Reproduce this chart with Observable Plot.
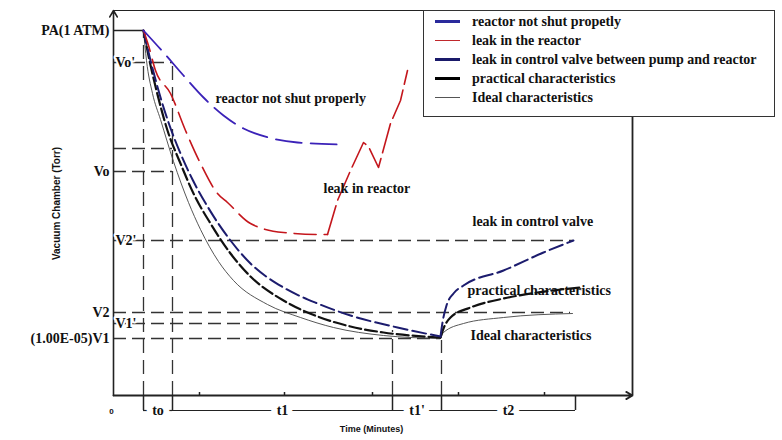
<!DOCTYPE html>
<html>
<head>
<meta charset="utf-8">
<script src="https://cdn.jsdelivr.net/npm/d3@7"></script>
<script src="https://cdn.jsdelivr.net/npm/@observablehq/plot@0.6"></script>
<style>
  body { margin: 0; background: #fff; }
  #wrap { position: relative; width: 782px; height: 440px; }
  #legend { position: absolute; left: 423px; top: 10px; width: 352px; height: 107px; box-sizing: border-box;
            border: 1.5px solid #333; background: #fff; padding-top: 1px;
            font: bold 14px "Liberation Serif", serif; color: #111; }
  #legend .row { height: 19px; line-height: 19px; display: flex; align-items: center; white-space: nowrap; }
  #legend .sw { width: 25px; margin-left: 11px; margin-right: 12px; }
</style>
</head>
<body>
<div id="wrap"></div>
<script>
// ---------- data (time units, pressure units: schematic, no absolute scale) ----------
const levelLabelsOuter = ["PA(1 ATM)", "Vo", "V2", "(1.00E-05)V1"];
const levelValuesOuter = [36.5, 22.4, 8.3, 5.7];
const levelLabelsInner = ["Vo'", "V2'", "V1'"];
const levelValuesInner = [33.3, 15.5, 7.2];

const paLevel = 36.5, paEnd = 3.0;
const guideLevels = [33.3, 24.7, 22.4, 15.5, 8.3, 7.2, 5.7];
const guideEnds   = [5.9, 5.9, 5.9, 46.0, 45.7, 18.5, 32.7];

const dropTimes = [3.0, 5.9, 27.9, 32.8];
const dropTops  = [36.5, 33.3, 6.5, 5.5];

const phaseNames  = ["to", "t1", "t1'", "t2"];
const phaseStarts = [3.0, 5.9, 27.9, 32.8];
const phaseEnds   = [5.9, 27.9, 32.8, 46.2];

const axisTicks = [8.6, 17.1, 25.9, 34.5, 43.1];
const tMax = 51.9, pTop = 38.5, legendLeft = 31.0, legendBottom = 27.8;

// reactor not shut properly
const reactorT = [3.0, 5.0, 7.0, 9.0, 11.0, 13.0, 15.5, 18.4, 22.7];
const reactorP = [36.5, 34.3, 32.0, 29.8, 28.0, 26.7, 25.8, 25.3, 25.1];
// leak in the reactor
const leakT = [3.0, 3.5, 4.2, 5.7, 7.2, 8.7, 10.4, 11.4, 13.7, 17.0, 21.0, 21.4];
const leakP = [36.5, 35.0, 32.5, 30.2, 26.5, 23.2, 20.2, 19.3, 17.2, 16.3, 16.1, 16.1];
const leakRiseT = [21.4, 22.4, 23.7, 25.0, 25.5, 26.5, 27.7, 28.7, 29.4];
const leakRiseP = [16.1, 19.5, 22.5, 25.3, 24.9, 22.8, 27.2, 29.5, 32.5];
// leak in control valve
const valveT = [3.0, 3.7, 4.5, 5.5, 6.7, 7.9, 9.4, 11.7, 13.7, 17.0, 20.4, 23.7, 28.4, 32.7];
const valveP = [36.5, 33.5, 30.5, 27.3, 24.2, 21.6, 18.9, 15.5, 13.2, 10.8, 9.2, 8.0, 6.8, 5.9];
const valveRiseT = [32.7, 32.9, 33.3, 34.0, 35.0, 39.0, 43.0, 46.0];
const valveRiseP = [5.9, 7.3, 9.0, 10.2, 11.0, 12.5, 14.3, 15.5];
// practical characteristics
const practT = [3.0, 3.6, 4.3, 5.4, 6.7, 8.0, 9.7, 11.7, 13.7, 17.0, 20.4, 23.7, 27.0, 32.7];
const practP = [36.5, 33.5, 30.5, 26.5, 23.2, 20.2, 17.2, 14.2, 11.9, 9.5, 7.9, 6.9, 6.3, 5.8];
const practRiseT = [32.7, 33.0, 33.7, 35.7, 39.0, 42.4, 46.7];
const practRiseP = [5.8, 6.7, 7.8, 8.8, 9.7, 10.3, 10.8];
// ideal characteristics
const idealT = [3.0, 3.3, 3.9, 4.7, 6.0, 7.5, 8.7, 10.5, 12.0, 15.4, 18.7, 22.0, 27.0, 32.7];
const idealP = [36.5, 33.5, 30.2, 27.6, 23.4, 19.3, 16.6, 13.4, 11.5, 9.1, 7.8, 6.8, 6.0, 5.7];
const idealRiseT = [32.7, 33.0, 35.0, 39.0, 45.9];
const idealRiseP = [5.7, 6.3, 7.2, 7.8, 8.2];

const curveLabels = ["reactor not shut properly", "leak in reactor", "leak in control valve",
                     "practical characteristics", "Ideal characteristics"];
const curveLabelT = [10.2, 21.0, 35.9, 35.4, 35.7];
const curveLabelP = [29.7, 20.7, 17.4, 10.5, 6.0];

const legendLabels = ["reactor not shut propetly", "leak in the reactor",
                      "leak in control valve between pump and reactor",
                      "practical characteristics", "Ideal characteristics"];

// ---------- build ----------
const pts = (ts, ps) => ts.map((t, i) => ({t, p: ps[i]}));
const serif = {fontFamily: "Liberation Serif", fontWeight: "bold", fontSize: 14, fill: "#111"};
const sans = {fontFamily: "Liberation Sans", fontWeight: "bold", fill: "#111"};
const guideStyle = {stroke: "#333", strokeWidth: 1.3, strokeDasharray: "13,6"};

const C = {
  reactor: "#3b22b8", leak: "#c4161c", valve: "#1c1c6e", pract: "#111", ideal: "#444"
};

const guides = guideLevels.map((p, i) => ({p, t2: guideEnds[i]}));
const drops = dropTimes.map((t, i) => ({t, top: dropTops[i]}));
const phases = phaseNames.map((n, i) => ({n, a: phaseStarts[i], b: phaseEnds[i], m: (phaseStarts[i] + phaseEnds[i]) / 2}));
const bracketY = -1.5;

const chart = Plot.plot({
  width: 782, height: 440, margin: 0,
  x: {domain: [0, 52], range: [113, 633], axis: null},
  y: {domain: [0, 38.3], range: [395, 12], axis: null},
  marks: [
    // guide lines
    Plot.ruleY([paLevel], {x1: 0, x2: paEnd, stroke: "#222", strokeWidth: 1.5}),
    Plot.ruleY(guides, {y: "p", x1: 0, x2: "t2", ...guideStyle}),
    Plot.ruleX(drops, {x: "t", y1: 0, y2: "top", ...guideStyle, strokeDasharray: "14,7"}),
    // frame
    Plot.arrow([0], {x1: 0, y1: 0, x2: 0, y2: pTop, stroke: "#222", strokeWidth: 1.6, headLength: 7}),
    Plot.ruleY([pTop], {x1: 0, x2: legendLeft, stroke: "#222", strokeWidth: 1.2}),
    Plot.arrow([0], {x1: 0, y1: 0, x2: tMax, y2: 0, stroke: "#222", strokeWidth: 1.8, headLength: 6}),
    Plot.ruleX([tMax], {y1: 0, y2: legendBottom, stroke: "#222", strokeWidth: 1.8}),
    Plot.ruleX(axisTicks, {y1: 0, y2: 0.3, stroke: "#222", strokeWidth: 1.5}),
    // phase brackets
    Plot.ruleX(phaseStarts.concat([phaseEnds[phaseEnds.length - 1]]), {y1: 0, y2: bracketY, stroke: "#222", strokeWidth: 1.5}),
    Plot.ruleY(phases, {y: bracketY, x1: "a", x2: "b", stroke: "#222", strokeWidth: 1.2}),
    Plot.text(phases, {x: "m", y: bracketY, text: "n", ...serif, stroke: "white", strokeWidth: 12}),
    Plot.text(["0"], {x: -0.2, y: -1.6, text: d => d, ...sans, fontSize: 8}),
    Plot.text(["Time (Minutes)"], {x: 25.8, y: -3.4, text: d => d, ...sans, fontSize: 9}),
    Plot.text(["Vacuum Chamber (Torr)"], {x: -5.7, y: 19.2, text: d => d, ...sans, fontSize: 10, rotate: -90}),
    // level labels
    Plot.text(levelLabelsOuter, {x: -0.4, y: (d, i) => levelValuesOuter[i], text: d => d, ...serif, textAnchor: "end"}),
    Plot.text(levelLabelsInner, {x: 0.2, y: (d, i) => levelValuesInner[i], text: d => d, ...serif, textAnchor: "start", stroke: "white", strokeWidth: 4}),
    // curves
    Plot.line(pts(idealT, idealP), {x: "t", y: "p", curve: "monotone-x", stroke: C.ideal, strokeWidth: 0.9}),
    Plot.line(pts(idealRiseT, idealRiseP), {x: "t", y: "p", curve: "monotone-x", stroke: C.ideal, strokeWidth: 0.9}),
    Plot.line(pts(practT, practP), {x: "t", y: "p", curve: "monotone-x", stroke: C.pract, strokeWidth: 2.2, strokeDasharray: "12,4"}),
    Plot.line(pts(practRiseT, practRiseP), {x: "t", y: "p", curve: "monotone-x", stroke: C.pract, strokeWidth: 2.2, strokeDasharray: "12,4"}),
    Plot.line(pts(valveT, valveP), {x: "t", y: "p", curve: "monotone-x", stroke: C.valve, strokeWidth: 2, strokeDasharray: "14,5"}),
    Plot.line(pts(valveRiseT, valveRiseP), {x: "t", y: "p", curve: "monotone-x", stroke: C.valve, strokeWidth: 2, strokeDasharray: "14,5"}),
    Plot.line(pts(leakT, leakP), {x: "t", y: "p", curve: "monotone-x", stroke: C.leak, strokeWidth: 1.6, strokeDasharray: "22,8"}),
    Plot.line(pts(leakRiseT, leakRiseP), {x: "t", y: "p", curve: "linear", stroke: C.leak, strokeWidth: 1.6, strokeDasharray: "30,6"}),
    Plot.line(pts(reactorT, reactorP), {x: "t", y: "p", curve: "monotone-x", stroke: C.reactor, strokeWidth: 1.8, strokeDasharray: "26,9"}),
    // curve labels
    Plot.text(curveLabels, {x: (d, i) => curveLabelT[i], y: (d, i) => curveLabelP[i], text: d => d, ...serif, textAnchor: "start"})
  ]
});

const wrap = document.getElementById("wrap");
wrap.appendChild(chart);

// legend overlay
const swatches = [
  {c: "#2a2a9c", h: 2.5}, {c: "#c0282c", h: 1.5}, {c: "#1a1a6a", h: 2.5}, {c: "#000", h: 3}, {c: "#555", h: 1}
];
const lg = document.createElement("div");
lg.id = "legend";
legendLabels.forEach((lab, i) => {
  const row = document.createElement("div");
  row.className = "row";
  const sw = document.createElement("span");
  sw.className = "sw";
  sw.style.height = swatches[i].h + "px";
  sw.style.background = swatches[i].c;
  const tx = document.createElement("span");
  tx.textContent = lab;
  row.appendChild(sw);
  row.appendChild(tx);
  lg.appendChild(row);
});
wrap.appendChild(lg);
</script>
</body>
</html>
